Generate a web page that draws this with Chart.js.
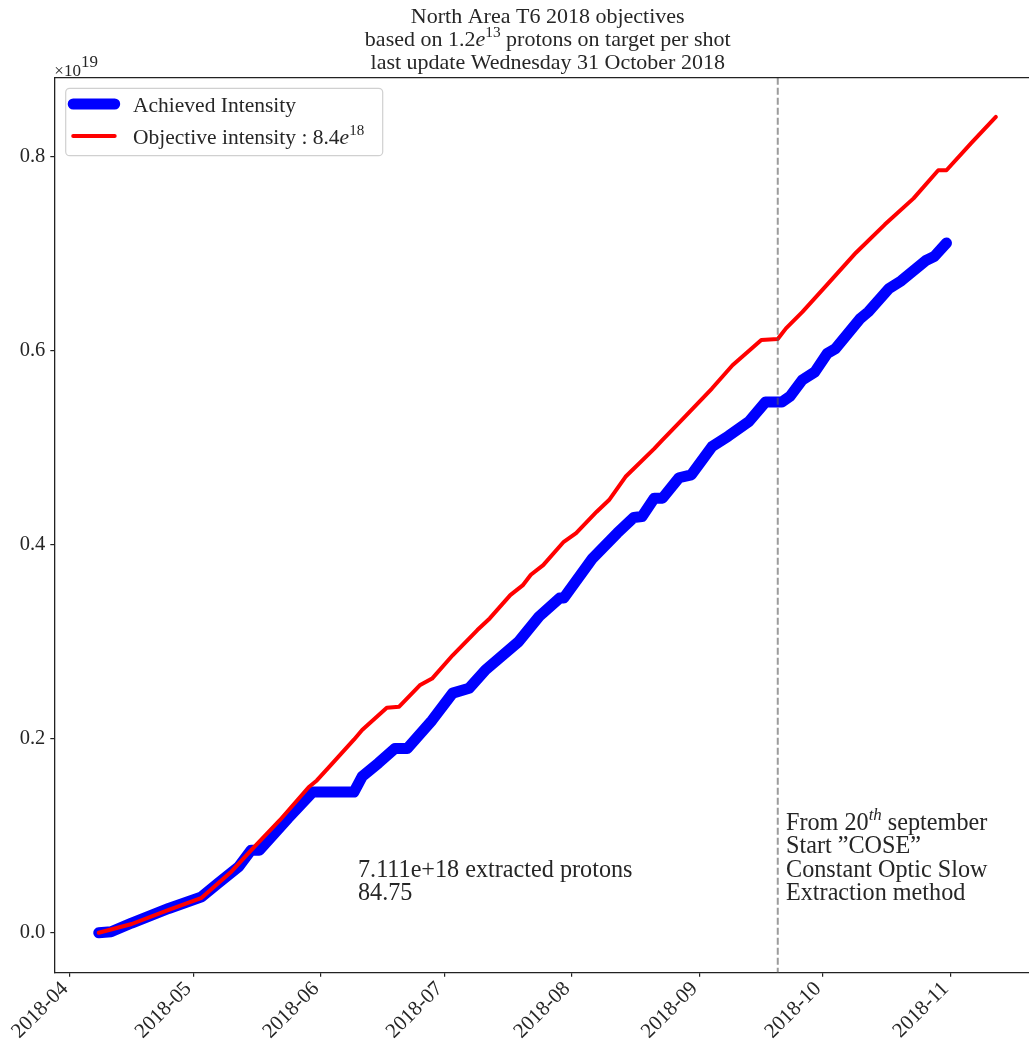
<!DOCTYPE html>
<html>
<head>
<meta charset="utf-8">
<script src="https://cdn.jsdelivr.net/npm/chart.js@4.4.0/dist/chart.umd.min.js"></script>
<style>
html, body { margin: 0; padding: 0; background: #fff; }
#wrap { width: 1029px; height: 1042px; position: relative; }
</style>
</head>
<body>
<div id="wrap"><canvas id="chart"></canvas></div>
<script>
const FONT = '"Liberation Serif", "Times New Roman", serif';
const INK = '#262626';

// month ticks on the x axis
const tickLabels = ['2018-04', '2018-05', '2018-06', '2018-07', '2018-08', '2018-09', '2018-10', '2018-11'];
const yTicks = [0, 0.2, 0.4, 0.6, 0.8];

// Achieved intensity (x 1e19 protons)
const achievedDates = ['2018-04-08','2018-04-11','2018-04-16','2018-04-25','2018-05-03','2018-05-07','2018-05-12',
  '2018-05-15','2018-05-17','2018-05-24','2018-05-30','2018-06-09','2018-06-11','2018-06-15','2018-06-19',
  '2018-06-22','2018-06-28','2018-07-03','2018-07-07','2018-07-11','2018-07-19','2018-07-24','2018-07-29',
  '2018-07-30','2018-08-06','2018-08-12','2018-08-16','2018-08-18','2018-08-21','2018-08-23','2018-08-27',
  '2018-08-30','2018-09-04','2018-09-08','2018-09-13','2018-09-17','2018-09-21','2018-09-23','2018-09-26',
  '2018-09-29','2018-10-02','2018-10-04','2018-10-10','2018-10-12','2018-10-17','2018-10-20','2018-10-26',
  '2018-10-28','2018-10-31'];
const achievedValues = [0.000, 0.001, 0.010, 0.025, 0.037, 0.051, 0.068,
  0.085, 0.085, 0.118, 0.145, 0.145, 0.161, 0.175, 0.190,
  0.190, 0.219, 0.247, 0.252, 0.271, 0.300, 0.326, 0.345,
  0.345, 0.386, 0.412, 0.428, 0.429, 0.448, 0.448, 0.469,
  0.472, 0.501, 0.512, 0.527, 0.547, 0.547, 0.553, 0.570,
  0.578, 0.597, 0.602, 0.633, 0.640, 0.664, 0.672, 0.693,
  0.697, 0.711];

// Objective intensity (x 1e19 protons)
const objectiveDates = ['2018-04-08','2018-04-16','2018-04-25','2018-05-03','2018-05-10','2018-05-15','2018-05-22',
  '2018-05-29','2018-05-31','2018-06-03','2018-06-09','2018-06-11','2018-06-17','2018-06-20','2018-06-25',
  '2018-06-28','2018-07-03','2018-07-09','2018-07-12','2018-07-17','2018-07-20','2018-07-22','2018-07-25',
  '2018-07-30','2018-08-02','2018-08-07','2018-08-10','2018-08-14','2018-08-21','2018-08-23','2018-08-28',
  '2018-09-04','2018-09-09','2018-09-16','2018-09-20','2018-09-22','2018-09-26','2018-10-02','2018-10-09',
  '2018-10-16','2018-10-23','2018-10-29','2018-10-31','2018-11-06','2018-11-12'];
const objectiveValues = [0.000, 0.009, 0.0235, 0.036, 0.062, 0.085, 0.116,
  0.150, 0.157, 0.171, 0.199, 0.209, 0.232, 0.233, 0.255,
  0.262, 0.286, 0.312, 0.324, 0.348, 0.358, 0.369, 0.379,
  0.403, 0.412, 0.434, 0.446, 0.470, 0.499, 0.508, 0.530,
  0.561, 0.585, 0.611, 0.612, 0.623, 0.640, 0.668, 0.701,
  0.730, 0.757, 0.786, 0.786, 0.814, 0.841];

const coseDate = '2018-09-20';
const xRange = [-3.8, 233.05];   // days since 2018-04-01
const yRange = [-0.0412, 0.8814];
const axesRightDay = 236;        // right spine of the original axes (off page)

const titleLines = [
  [['North Area T6 2018 objectives']],
  [['based on 1.2'], ['e', 'i'], ['13', 'sup'], [' protons on target per shot']],
  [['last update Wednesday 31 October 2018']]
];
const legendLabels = [
  [['Achieved Intensity']],
  [['Objective intensity : 8.4'], ['e', 'i'], ['18', 'sup']]
];
const noteExtracted = { date: '2018-06-10', value: 0.0337, lines: [
  [['7.111e+18 extracted protons']],
  [['84.75']]
]};
const noteCose = { date: '2018-09-22', value: 0.0337, lines: [
  [['From 20'], ['th', 'isup'], [' september']],
  [['Start \u201dCOSE\u201d']],
  [['Constant Optic Slow']],
  [['Extraction method']]
]};

const DAY0 = Date.parse('2018-04-01');
function dayOf(s) { return (Date.parse(s) - DAY0) / 86400000; }

// draws text made of plain / italic / superscript pieces
function richText(ctx, parts, x, y, size, align, supScale = 0.7, supRise = 0.42) {
  const fontFor = k => {
    const sup = k === 'sup' || k === 'isup';
    const ital = k === 'i' || k === 'isup';
    return (ital ? 'italic ' : '') + (sup ? size * supScale : size) + 'px ' + FONT;
  };
  let w = 0;
  parts.forEach(([t, k]) => { ctx.font = fontFor(k); w += ctx.measureText(t).width; });
  let cx = align === 'center' ? x - w / 2 : align === 'right' ? x - w : x;
  ctx.textAlign = 'left';
  ctx.textBaseline = 'alphabetic';
  parts.forEach(([t, k]) => {
    ctx.font = fontFor(k);
    const dy = (k === 'sup' || k === 'isup') ? -size * supRise : 0;
    ctx.fillText(t, cx, y + dy);
    cx += ctx.measureText(t).width;
  });
}

const decorations = {
  id: 'decorations',
  afterDatasetsDraw(chart) {
    const { ctx, chartArea: a, scales: { x } } = chart;
    // vertical dashed marker for COSE start
    const px = x.getPixelForValue(dayOf(coseDate));
    ctx.save();
    ctx.strokeStyle = 'rgba(90,90,90,0.6)';
    ctx.lineWidth = 2;
    ctx.setLineDash([7, 3]);
    ctx.beginPath();
    ctx.moveTo(px, a.top);
    ctx.lineTo(px, a.bottom);
    ctx.stroke();
    ctx.restore();
  },
  afterDraw(chart) {
    const { ctx, chartArea: a, scales: { x, y } } = chart;
    ctx.save();
    // top spine
    ctx.strokeStyle = '#222';
    ctx.lineWidth = 1.3;
    ctx.beginPath();
    ctx.moveTo(a.left, a.top);
    ctx.lineTo(a.right, a.top);
    ctx.stroke();

    ctx.fillStyle = INK;
    // title
    const tx = (a.left + x.getPixelForValue(axesRightDay)) / 2;
    titleLines.forEach((parts, i) => richText(ctx, parts, tx, a.top - 55 + i * 23.3, 22, 'center'));

    // offset text of the y axis
    richText(ctx, [['\u00d710'], ['19', 'sup']], a.left, a.top - 2, 17, 'left', 1.0, 0.5);

    // annotations
    [noteExtracted, noteCose].forEach(n => {
      const nx = x.getPixelForValue(dayOf(n.date));
      const ny = y.getPixelForValue(n.value);
      const k = n.lines.length;
      n.lines.forEach((parts, i) => richText(ctx, parts, nx, ny - (k - 1 - i) * 23.3, 24.2, 'left'));
    });

    // legend
    const L = a.left + 11.4, T = a.top + 10.6, W = 317, H = 67.4;
    ctx.beginPath();
    ctx.roundRect(L, T, W, H, 4);
    ctx.fillStyle = 'rgba(255,255,255,0.8)';
    ctx.fill();
    ctx.strokeStyle = '#d0d0d0';
    ctx.lineWidth = 1.2;
    ctx.stroke();
    chart.data.datasets.forEach(ds => {
      const row = ds.legendRow;
      const cy = T + 15.7 + row * 32;
      ctx.strokeStyle = ds.borderColor;
      ctx.lineWidth = ds.borderWidth;
      ctx.lineCap = 'round';
      ctx.beginPath();
      ctx.moveTo(L + 7.5, cy);
      ctx.lineTo(L + 49, cy);
      ctx.stroke();
      ctx.fillStyle = INK;
      richText(ctx, legendLabels[row], L + 67.3, cy + 8, 21.5, 'left');
    });
    ctx.restore();
  }
};

const toPoints = (dates, vals) => dates.map((d, i) => ({ x: dayOf(d), y: vals[i] }));

new Chart(document.getElementById('chart'), {
  type: 'line',
  data: {
    datasets: [
      { label: 'Achieved Intensity', data: toPoints(achievedDates, achievedValues),
        borderColor: '#0000ff', borderWidth: 11, order: 2, legendRow: 0 },
      { label: 'Objective intensity : 8.4e18', data: toPoints(objectiveDates, objectiveValues),
        borderColor: '#ff0000', borderWidth: 4, order: 1, legendRow: 1 }
    ]
  },
  options: {
    responsive: true,
    maintainAspectRatio: false,
    animation: false,
    layout: { padding: { top: 77.7, left: 0, right: 0, bottom: 0 } },
    elements: {
      point: { radius: 0 },
      line: { tension: 0, fill: false, borderCapStyle: 'round', borderJoinStyle: 'round' }
    },
    plugins: { legend: { display: false }, title: { display: false }, tooltip: { enabled: false } },
    scales: {
      x: {
        type: 'linear',
        min: xRange[0], max: xRange[1],
        afterBuildTicks: s => { s.ticks = tickLabels.map(t => ({ value: dayOf(t) })); },
        afterFit: s => { s.height = 69.3; },
        ticks: {
          callback: (v, i) => tickLabels[i],
          autoSkip: false, minRotation: 45, maxRotation: 45,
          font: { family: FONT, size: 21 }, color: INK, padding: 0, labelOffset: -5
        },
        grid: { display: true, drawOnChartArea: false, drawTicks: true, tickLength: 4, color: '#222', lineWidth: 1.2 },
        border: { display: true, color: '#222', width: 1.3 }
      },
      y: {
        min: yRange[0], max: yRange[1],
        afterBuildTicks: s => { s.ticks = yTicks.map(v => ({ value: v })); },
        afterFit: s => { s.width = 54.3; },
        ticks: {
          callback: v => v.toFixed(1),
          font: { family: FONT, size: 20.5 }, color: INK, padding: 5
        },
        grid: { display: true, drawOnChartArea: false, drawTicks: true, tickLength: 4, color: '#222', lineWidth: 1.2 },
        border: { display: true, color: '#222', width: 1.3 }
      }
    }
  },
  plugins: [decorations]
});
</script>
</body>
</html>
